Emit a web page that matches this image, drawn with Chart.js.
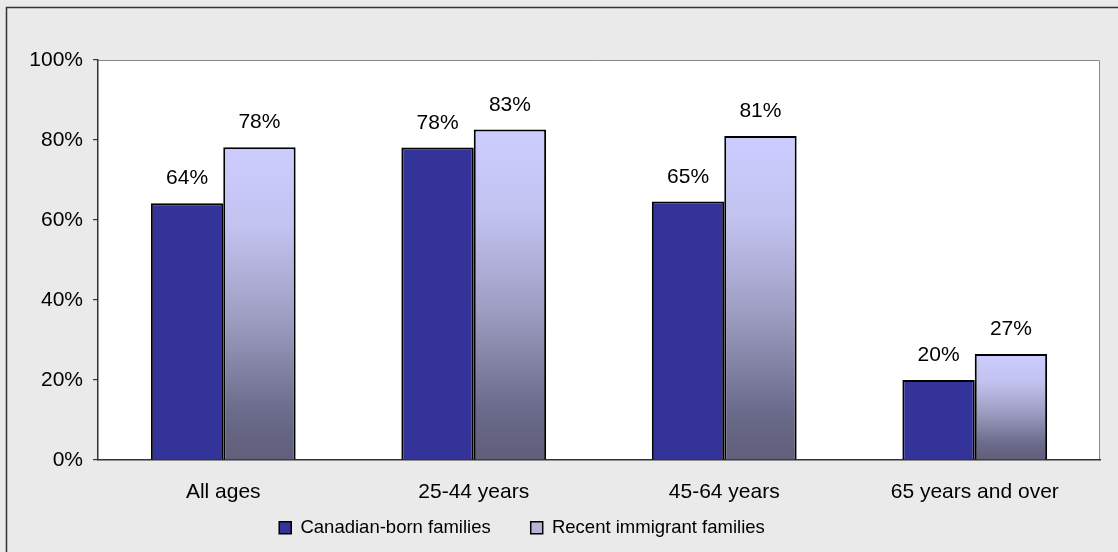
<!DOCTYPE html>
<html>
<head>
<meta charset="utf-8">
<script src="https://cdn.jsdelivr.net/npm/chart.js@4.4.1/dist/chart.umd.min.js"></script>
<style>
  html, body { margin: 0; padding: 0; background: #eaeaea; }
  canvas { display: block; }
</style>
</head>
<body>
<canvas id="myChart" width="1118" height="552"></canvas>
<script>
// chart data
const categories = ['All ages', '25-44 years', '45-64 years', '65 years and over'];
const canadianBorn = [64.2, 78.1, 64.6, 20.0];
const recentImmigrant = [78.2, 82.6, 81.0, 26.5];
const seriesNames = ['Canadian-born families', 'Recent immigrant families'];
const yTicks = [0, 20, 40, 60, 80, 100];

const FONT = "'Liberation Sans', Arial, sans-serif";

// grey page, dark frame, white plot area with grey top/right edge
const backdrop = {
    id: 'backdrop',
    beforeDraw(chart) {
        const { ctx, width, height, chartArea: a } = chart;
        ctx.save();
        ctx.fillStyle = '#eaeaea';
        ctx.fillRect(0, 0, width, height);
        ctx.strokeStyle = '#333';
        ctx.lineWidth = 1.5;
        ctx.beginPath();
        ctx.moveTo(6.5, height + 2);
        ctx.lineTo(6.5, 7.5);
        ctx.lineTo(width + 2, 7.5);
        ctx.stroke();
        ctx.fillStyle = '#fff';
        ctx.fillRect(a.left, a.top, a.right - a.left, a.bottom - a.top);
        ctx.strokeStyle = '#888';
        ctx.lineWidth = 1;
        ctx.beginPath();
        ctx.moveTo(a.left, a.top + 0.5);
        ctx.lineTo(a.right - 0.5, a.top + 0.5);
        ctx.lineTo(a.right - 0.5, a.bottom);
        ctx.stroke();
        ctx.restore();
    }
};

// percent labels above the bars
const valueLabels = {
    id: 'valueLabels',
    afterDatasetsDraw(chart) {
        const { ctx } = chart;
        ctx.save();
        ctx.font = '21px ' + FONT;
        ctx.fillStyle = '#000';
        ctx.textAlign = 'center';
        ctx.textBaseline = 'alphabetic';
        chart.data.datasets.forEach((ds, i) => {
            chart.getDatasetMeta(i).data.forEach((bar, j) => {
                ctx.fillText(Math.round(ds.data[j]) + '%', bar.x, bar.y - 19);
            });
        });
        ctx.restore();
    }
};

// the legend in the picture sits left of centre, close under the axis labels
const legendShift = {
    id: 'legendShift',
    afterLayout(chart) {
        const lg = chart.legend;
        lg.left -= 28;
        lg.right -= 28;
        lg.top -= 26.5;
        lg.bottom -= 26.5;
    }
};

function fadeFill(context) {
    const { chart, dataIndex, dataset } = context;
    if (!chart.chartArea) return '#ccccff';
    const y = chart.scales.y;
    const top = y.getPixelForValue(dataset.data[dataIndex]);
    const base = y.getPixelForValue(0);
    const g = chart.ctx.createLinearGradient(0, top, 0, base);
    g.addColorStop(0, '#ccccff');
    g.addColorStop(0.25, '#c3c3f1');
    g.addColorStop(0.55, '#9d9dc2');
    g.addColorStop(0.85, '#6a6a8a');
    g.addColorStop(1, '#5f5f7a');
    return g;
}

const ctx = document.getElementById('myChart').getContext('2d');
new Chart(ctx, {
    type: 'bar',
    data: {
        labels: categories,
        datasets: [{
            label: seriesNames[0],
            data: canadianBorn,
            backgroundColor: '#333399',
            borderColor: '#000',
            borderWidth: 2
        }, {
            label: seriesNames[1],
            data: recentImmigrant,
            backgroundColor: fadeFill,
            borderColor: '#000',
            borderWidth: 2
        }]
    },
    options: {
        responsive: false,
        animation: false,
        datasets: {
            bar: { categoryPercentage: 0.578, barPercentage: 1.0 }
        },
        layout: { padding: { top: 60, right: 18, left: 0, bottom: -21.5 } },
        scales: {
            x: {
                grid: { drawOnChartArea: false, drawTicks: false },
                border: { color: '#333', width: 1.5 },
                ticks: { color: '#000', font: { family: FONT, size: 21 }, padding: 20 },
                afterFit(scale) { scale.height = 45; }
            },
            y: {
                min: 0,
                max: 100,
                afterBuildTicks(scale) { scale.ticks = yTicks.map(v => ({ value: v })); },
                grid: { drawOnChartArea: false, tickLength: 5, color: '#333', lineWidth: 1.2 },
                border: { color: '#333', width: 1.5 },
                ticks: {
                    color: '#000',
                    font: { family: FONT, size: 21 },
                    padding: 10,
                    callback: v => v + '%'
                },
                afterFit(scale) { scale.width = 98; }
            }
        },
        plugins: {
            legend: {
                position: 'bottom',
                labels: {
                    color: '#000',
                    font: { family: FONT, size: 18.5 },
                    boxWidth: 12,
                    boxHeight: 12,
                    padding: 40,
                    generateLabels(chart) {
                        const items = Chart.defaults.plugins.legend.labels.generateLabels(chart);
                        items.forEach(it => { it.lineWidth = 1.5; it.strokeStyle = '#000'; });
                        items[1].fillStyle = '#b4b4d6';
                        return items;
                    }
                }
            },
            tooltip: { enabled: false }
        }
    },
    plugins: [backdrop, valueLabels, legendShift]
});
</script>
</body>
</html>
